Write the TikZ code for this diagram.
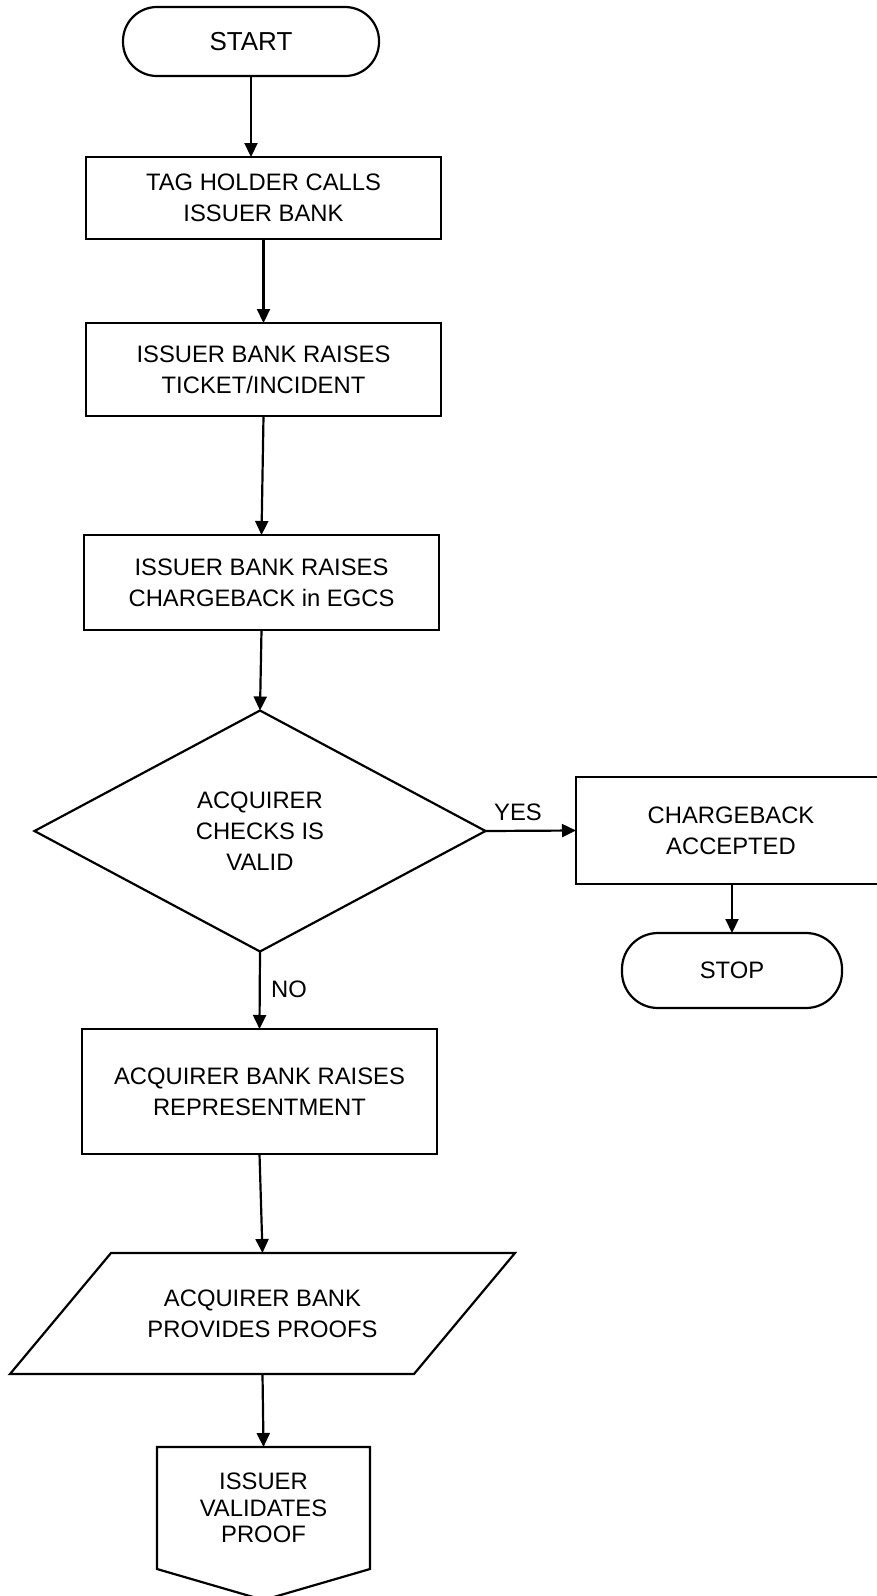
\documentclass[tikz,border=0pt]{standalone}
\usepackage{fontspec}
\setmainfont{Liberation Sans}
\usetikzlibrary{arrows.meta,shapes.geometric,calc}

\begin{document}
\begin{tikzpicture}[x=1pt,y=-1pt,
  every node/.style={inner sep=0pt,outer sep=0pt,align=center,
    font=\fontsize{23.8}{31}\selectfont},
  flowbox/.style={draw,line width=2.2pt,rectangle},
  terminal/.style={draw,line width=2.2pt,rectangle,rounded corners=#1},
  decision/.style={draw,line width=2.2pt,diamond},
  plain/.style={rectangle},
  outline/.style={line width=2.2pt,line join=miter},
  arr/.style={line width=2.2pt,-{Triangle[length=14pt,width=13pt]}}]

\useasboundingbox (0,0) rectangle (877,1596);

% terminals and process boxes
\node[terminal=34pt,minimum width=256pt,minimum height=69pt,
  font=\fontsize{26}{31}\selectfont] (start) at (251,41.5) {START};
\node[flowbox,minimum width=355pt,minimum height=82pt] (tag) at (263.5,198) {TAG HOLDER CALLS\\ISSUER BANK};
\node[flowbox,minimum width=355pt,minimum height=93pt] (ticket) at (263.5,369.5) {ISSUER BANK RAISES\\TICKET/INCIDENT};
\node[flowbox,minimum width=355pt,minimum height=95pt] (egcs) at (261.5,582.5) {ISSUER BANK RAISES\\CHARGEBACK in EGCS};

% decision
\node[decision,minimum width=451pt,minimum height=241pt] (check) at (260,831) {ACQUIRER\\CHECKS IS\\VALID};

% accepted branch
\node[flowbox,minimum width=310pt,minimum height=107pt] (accepted) at (731,830.5) {CHARGEBACK\\ACCEPTED};
\node[terminal=36pt,minimum width=220pt,minimum height=75pt] (stop) at (732,970.5) {STOP};

% representment branch
\node[flowbox,minimum width=355pt,minimum height=125pt] (repr) at (259.5,1091.5) {ACQUIRER BANK RAISES\\REPRESENTMENT};

% input/output (parallelogram)
\node[plain,minimum width=505pt,minimum height=121pt] (proofs) at (262.5,1313.5) {ACQUIRER BANK\\PROVIDES PROOFS};
\draw[outline] ($(proofs.north west)+(101,0)$) -- (proofs.north east)
  -- ($(proofs.south east)-(101,0)$) -- (proofs.south west) -- cycle;

% off-page connector
\node[plain,minimum width=213pt,minimum height=122pt,
  font=\fontsize{23.8}{26.5}\selectfont] (validate) at (263.5,1508) {ISSUER\\VALIDATES\\PROOF};
\draw[outline] (validate.south west) -- (validate.north west) -- (validate.north east)
  -- (validate.south east) -- ($(validate.south)+(0,31)$) -- cycle;

% branch labels
\node (yes) at (518,812) {YES};
\node (no) at (289,989) {NO};

% connectors
\draw[arr] (start.south) -- (start.south |- tag.north);
\draw[arr] (tag.south) -- (ticket.north);
\draw[arr] (ticket.south) -- (egcs.north);
\draw[arr] (egcs.south) -- (check.north);
\draw[arr] (check.east) -- (accepted.west);
\draw[arr] (accepted.south -| stop.north) -- (stop.north);
\draw[arr] (check.south) -- (repr.north);
\draw[arr] (repr.south) -- (proofs.north);
\draw[arr] (proofs.south) -- (validate.north);

\end{tikzpicture}
\end{document}
